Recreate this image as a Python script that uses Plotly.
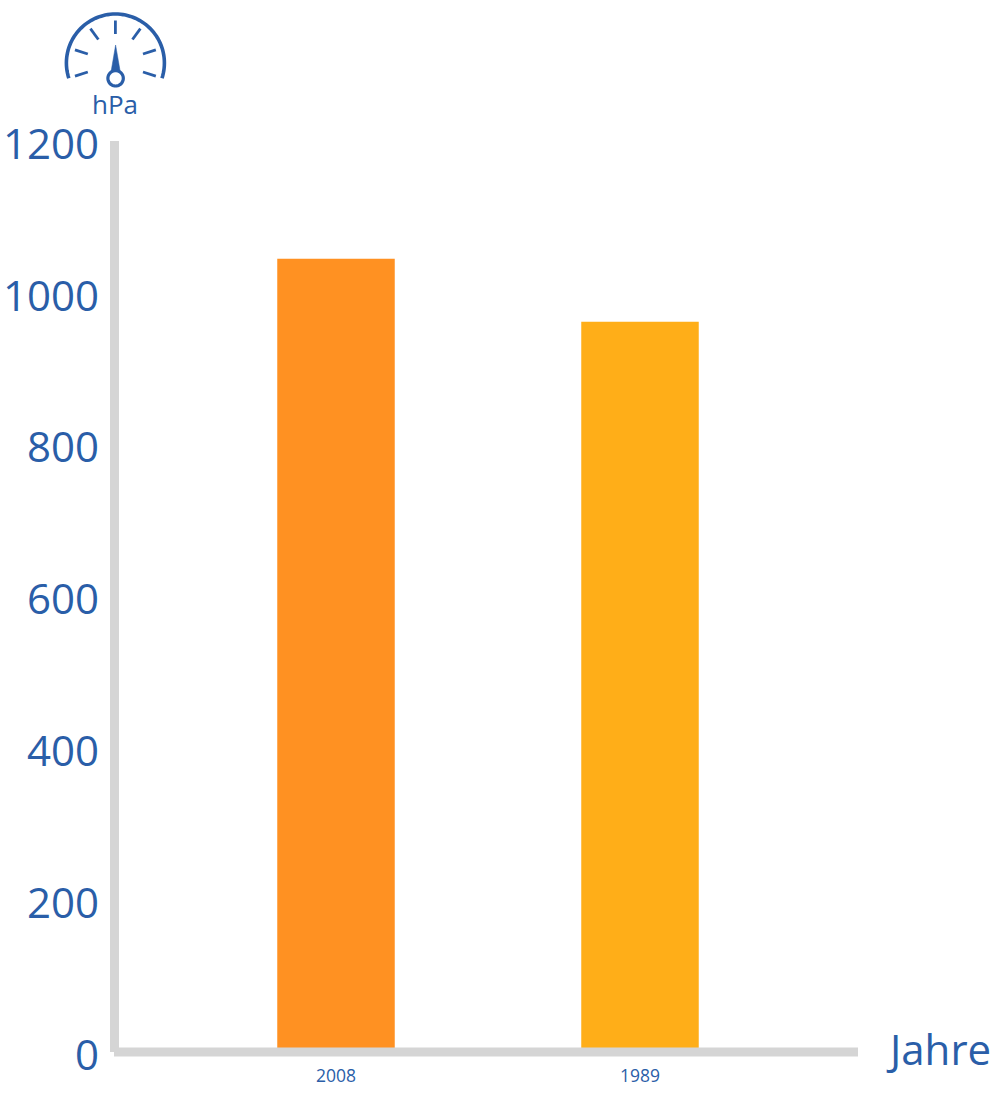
import math
import plotly.graph_objects as go

categories = ["2008", "1989"]
values = [1045, 962]
bar_colors = ["#ff9122", "#ffae18"]
y_ticks = [0, 200, 400, 600, 800, 1000, 1200]

W, H = 1000, 1094
L, R, T, B = 114, 858, 141, 1052
BLUE = "#2a5ea8"
GREY = "#d5d5d5"
FONT = "Open Sans, sans-serif"

# plot-relative paper coordinates
def fx(x):
    return (x - L) / (R - L)

def fy(y):
    return (B - y) / (B - T)

def path(points, close=False):
    s = "M" + " L".join(f"{fx(x):.5f},{fy(y):.5f}" for x, y in points)
    return s + (" Z" if close else "")

def line_shape(points, width, color=BLUE, fill=None, close=False):
    d = dict(type="path", xref="paper", yref="paper", path=path(points, close),
             line=dict(color=color, width=width), layer="above")
    if fill:
        d["fillcolor"] = fill
    return d

def rect(x0, y0, x1, y1):
    return dict(type="rect", xref="paper", yref="paper", x0=fx(x0), x1=fx(x1),
                y0=fy(y1), y1=fy(y0), fillcolor=GREY, line=dict(width=0), layer="above")

cx, cy, r = 115.4, 63, 49
shapes = [rect(110, 141, 119, 1052), rect(114, 1047.5, 858, 1056.5)]

arc = []
for i in range(0, 73):
    a = math.radians(-108 + i * 216 / 72)
    arc.append((cx + r * math.sin(a), cy - r * math.cos(a)))
shapes.append(line_shape(arc, 3.6))

for deg in (-108, -72, -36, 0, 36, 72, 108):
    a = math.radians(deg)
    shapes.append(line_shape([(cx + 42.5 * math.sin(a), cy - 42.5 * math.cos(a)),
                              (cx + 29 * math.sin(a), cy - 29 * math.cos(a))], 2.8))

shapes.append(line_shape([(115.6, 45), (120.3, 72), (111, 72)], 0.5, fill=BLUE, close=True))
circle = []
for i in range(0, 49):
    a = math.radians(i * 7.5)
    circle.append((115.6 + 7.7 * math.cos(a), 78.3 + 7.7 * math.sin(a)))
shapes.append(line_shape(circle, 3.2, fill="white", close=True))

fig = go.Figure(go.Bar(x=categories, y=values, marker=dict(color=bar_colors, line=dict(width=0)),
                       width=117.5 / 304, hoverinfo="skip"))

fig.update_layout(
    width=W, height=H, autosize=False,
    margin=dict(l=L, r=W - R, t=T, b=H - B, pad=0),
    paper_bgcolor="white", plot_bgcolor="white",
    showlegend=False, font=dict(family=FONT, color=BLUE),
    shapes=shapes,
    annotations=[
        dict(text="hPa", xref="paper", yref="paper", x=fx(115), y=fy(104), showarrow=False,
             font=dict(size=26, color=BLUE, family=FONT), xanchor="center", yanchor="middle"),
        dict(text="Jahre", xref="paper", yref="paper", x=fx(886), y=fy(1048), showarrow=False,
             font=dict(size=42, color=BLUE, family=FONT), xanchor="left", yanchor="middle", xshift=-2),
    ],
    xaxis=dict(type="category", categoryorder="array", categoryarray=categories,
               range=[-(336 - L) / 304, (R - 336) / 304], showgrid=False, zeroline=False,
               showline=False, ticks="", tickfont=dict(size=17.5, color=BLUE, family=FONT),
               ticklabelstandoff=11, automargin=False),
    yaxis=dict(range=[0, 1200], tickvals=y_ticks, showgrid=False, zeroline=False,
               showline=False, ticks="", tickfont=dict(size=42, color=BLUE, family=FONT),
               ticklabelstandoff=14, ticklabelshift=3, automargin=False),
)

fig.write_html("out.html", config=dict(displayModeBar=False),
               post_script="document.body.style.margin='0';document.body.style.overflow='hidden';")
